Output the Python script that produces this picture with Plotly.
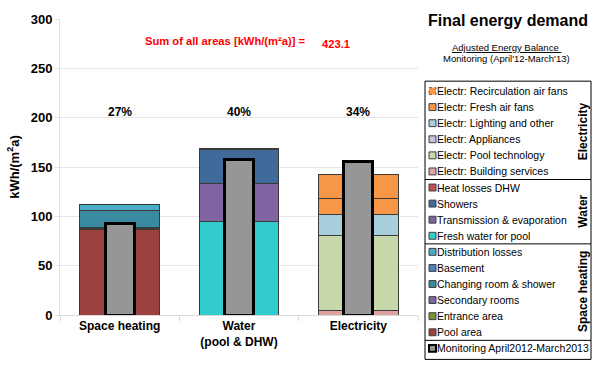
import plotly.graph_objects as go

# ---------------- data ----------------
categories = ["Space heating", "Water<br>(pool & DHW)", "Electricity"]
percent_labels = ["27%", "40%", "34%"]
total_label = "423.1"

# stack order (bottom -> top) per category
sh_names = ["Pool area", "Entrance area", "Secondary rooms", "Changing room & shower",
            "Basement", "Distribution losses"]
sh_values = [87.0, 1.0, 0.5, 17.2, 0.0, 6.3]
sh_colors = ["#9C413F", "#77933C", "#8064A2", "#3A8BA1", "#4F81BD", "#4BACC6"]

wa_names = ["Fresh water for pool", "Transmission & evaporation", "Showers", "Heat losses DHW"]
wa_values = [95.0, 38.5, 34.6, 0.6]
wa_colors = ["#33CCCC", "#8064A2", "#3F6A9A", "#C0504D"]

el_names = ["Electr: Building services", "Electr: Pool technology", "Electr: Appliances",
            "Electr: Lighting and other", "Electr: Fresh air fans", "Electr: Recirculation air fans"]
el_values = [4.5, 76.5, 0.0, 21.0, 16.0, 24.0]
el_colors = ["#DFA3A3", "#C6D7AA", "#CCC0DA", "#A9CFDD", "#F79646", "#F79646"]

monitoring_name = "Monitoring April2012-March2013"
monitoring_values = [93.0, 158.0, 155.5]

groups = [("Electricity", el_names, el_colors),
          ("Water", wa_names, wa_colors),
          ("Space heating", sh_names, sh_colors)]

# ---------------- layout geometry ----------------
W, H = 600, 389
L, R, T, B = 60, 182, 15, 74
PW, PH = W - L - R, H - T - B


def px(x):
    return (x - L) / PW


def py(y):
    return (H - B - y) / PH


FONT = "Liberation Sans, Arial, sans-serif"

fig = go.Figure()

series = []
for ci, (names, vals, cols) in enumerate([(sh_names, sh_values, sh_colors),
                                          (wa_names, wa_values, wa_colors),
                                          (el_names, el_values, el_colors)]):
    for n, v, c in zip(names, vals, cols):
        y = [None, None, None]
        y[ci] = v
        series.append((n, y, c))

for n, y, c in series:
    fig.add_trace(go.Bar(
        x=categories, y=y, name=n, width=0.67,
        marker=dict(color=c, line=dict(color="#3A3A3A", width=1)),
        showlegend=False, hoverinfo="name+y"))

fig.add_trace(go.Bar(
    x=categories, y=monitoring_values, base=[0, 0, 0], name=monitoring_name, width=0.245,
    marker=dict(color="#969696", line=dict(color="#000000", width=3)),
    showlegend=False))

fig.update_layout(
    width=W, height=H, barmode="stack",
    margin=dict(l=L, r=R, t=T, b=B),
    plot_bgcolor="white", paper_bgcolor="white",
    font=dict(family=FONT, color="#000000"),
    xaxis=dict(type="category", tickson="boundaries", ticks="outside", ticklen=5,
               tickcolor="#D9D9D9", showline=True, linecolor="#D9D9D9", linewidth=1,
               showgrid=False, tickfont=dict(size=12, weight="bold", family=FONT),
               range=[-0.5, 2.5]),
    yaxis=dict(range=[0, 300], dtick=50, showgrid=True, gridcolor="#E6E6E6",
               zeroline=False, showline=True, linecolor="#E0E0E0", ticks="outside",
               ticklen=4, tickcolor="#E0E0E0",
               tickfont=dict(size=13, weight="bold", family=FONT),
               title=dict(text="kWh/(m<sup>2</sup>a)", standoff=8,
                          font=dict(size=13, weight="bold", family=FONT))),
)

ann = []


def add_text(x, y, text, size, xanchor="center", color="#000000", angle=0, ref="paper"):
    ann.append(dict(x=x, y=y, xref=ref if ref == "paper" else "x",
                    yref=ref if ref == "paper" else "y",
                    xanchor=xanchor, yanchor="middle", text=text, showarrow=False,
                    textangle=angle, font=dict(size=size, color=color, family=FONT)))


for c, p in zip(categories, percent_labels):
    add_text(c, 206, "<b>%s</b>" % p, 12, ref="data")

add_text(px(143), py(37), "<b>Sum of all areas [kWh/(m²a)] =</b>", 11.2, "left", "#FF0000")
add_text(px(320), py(40), "<b>%s</b>" % total_label, 11.2, "left", "#FF0000")

# titles
add_text(px(508), py(17), "<b>Final energy demand</b>", 16)
add_text(px(506), py(44), "<u>Adjusted Energy Balance </u>", 9.5)
add_text(px(506), py(55), "Monitoring (April'12-March'13)", 9.5)

# ---------------- custom legend ----------------
shapes = []
box_l, box_r, box_t, box_b = 425, 591, 78, 360
shapes.append(dict(type="rect", xref="paper", yref="paper", x0=px(box_l), x1=px(box_r),
                   y0=py(box_b), y1=py(box_t), line=dict(color="#000000", width=1),
                   fillcolor="rgba(0,0,0,0)"))

row0, step = 88, 16.3
i = 0
dividers = []
group_spans = []
for gname, names, cols in groups:
    start = i
    for n, c in zip(reversed(names), reversed(cols)):
        yc = row0 + step * i
        dash = "dot" if "Recirculation" in n else "solid"
        lc = "#B05A10" if dash == "dot" else "#404040"
        shapes.append(dict(type="rect", xref="paper", yref="paper",
                           x0=px(429), x1=px(436), y0=py(yc + 3.5), y1=py(yc - 3.5),
                           fillcolor=c, line=dict(color=lc, width=1, dash=dash)))
        add_text(px(435), py(yc), n, 10.5, "left")
        i += 1
    group_spans.append((gname, row0 + step * start - 8, row0 + step * (i - 1) + 8))
    dividers.append(row0 + step * (i - 1) + 8.2)

# monitoring entry
yc = row0 + step * i
shapes.append(dict(type="rect", xref="paper", yref="paper",
                   x0=px(429), x1=px(436), y0=py(yc + 3.5), y1=py(yc - 3.5),
                   fillcolor="#969696", line=dict(color="#000000", width=2)))
add_text(px(435), py(yc), monitoring_name, 10.5, "left")

for d in dividers:
    shapes.append(dict(type="line", xref="paper", yref="paper", x0=px(box_l), x1=px(box_r),
                       y0=py(d), y1=py(d), line=dict(color="#000000", width=1)))

for gname, y0, y1 in group_spans:
    add_text(px(583), py((y0 + y1) / 2), "<b>%s</b>" % gname, 12, angle=-90)

fig.update_layout(annotations=ann, shapes=shapes)

fig.write_html("out.html", config={"displayModeBar": False},
               post_script="document.body.style.margin='0';document.body.style.padding='0';")
